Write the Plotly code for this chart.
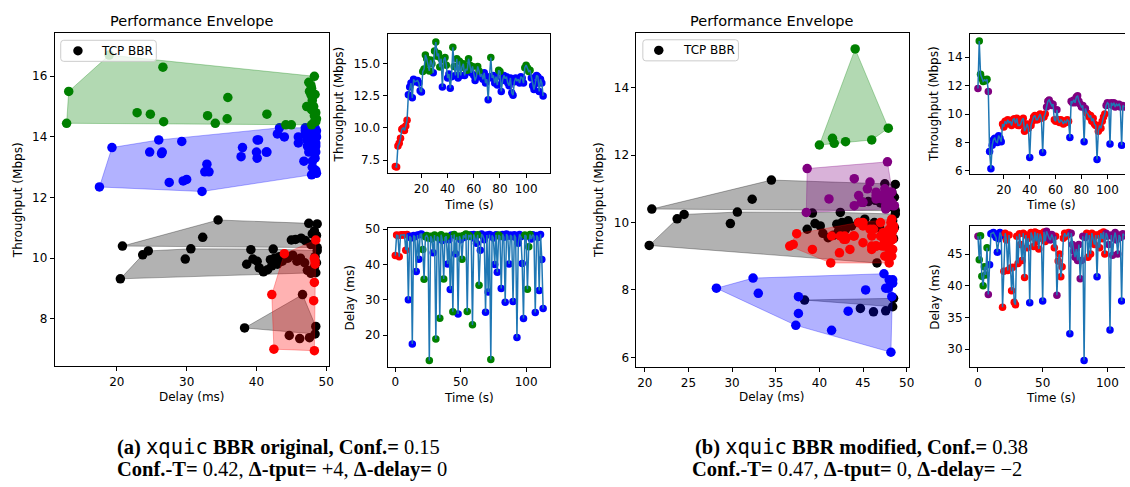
import numpy as np
import plotly.graph_objects as go

W, H = 1130, 487

# ---------------- DATA ----------------
# TCP BBR baseline points (delay ms, throughput Mbps), same in both panels
bbr_delay = [20.8, 32.3, 34.5, 47.5, 48.7, 45.0, 45.6, 46.4, 47.0, 48.3, 48.6, 48.0, 48.7, 47.8,
             20.5, 23.7, 24.5, 29.8, 30.6, 38.6, 39.2, 39.5, 40.1, 40.4, 41.0, 41.6, 42.0, 42.4,
             42.6, 43.0, 43.3, 43.7, 42.2, 44.5, 45.2, 45.8, 46.3, 46.9, 47.3, 47.8, 48.3, 48.6,
             48.4, 48.7, 48.5, 46.6, 38.3, 48.5, 48.4, 44.7, 46.2, 47.6]
bbr_tput = [10.40, 10.69, 11.26, 11.15, 11.13, 10.60, 10.62, 10.66, 10.58, 10.90, 10.75, 10.80, 10.35, 10.45,
            9.32, 10.11, 10.24, 9.97, 10.31, 9.80, 10.28, 9.97, 9.90, 9.68, 9.55, 9.62, 9.95, 10.30,
            10.00, 9.80, 10.05, 9.90, 9.75, 10.00, 10.10, 9.90, 10.00, 9.85, 9.60, 9.50, 9.70, 9.85,
            10.05, 10.25, 9.52, 8.80, 7.70, 7.75, 7.50, 7.45, 7.35, 7.38]
# envelope group of each TCP BBR point (0 = no envelope)
bbr_group_a = [1]*14 + [2]*31 + [3, 3, 3, 3] + [0, 0, 0]
bbr_group_b = [1]*14 + [2]*31 + [2, 3, 3, 3] + [0, 0, 0]

# xquic BBR original (panel a): per-second samples
time_a = list(range(114))
tput_a = [7.0, 6.95, 8.6, 8.8, 9.2, 9.9, 10.0, 9.8, 10.15, 10.6,
          12.6, 13.2, 13.5, 12.35, 13.8, 13.6, 13.65, 13.7, 13.5, 12.9,
          12.8, 14.4, 14.6, 15.7, 15.4, 15.0, 14.45, 15.3, 15.0, 14.3,
          16.0, 16.7, 15.6, 15.8, 14.75, 15.4, 13.2, 15.3, 15.5, 14.9,
          13.9, 14.2, 13.1, 14.0, 16.3, 14.8, 14.1, 15.4, 13.9, 15.2,
          14.1, 14.75, 15.0, 14.1, 14.6, 14.5, 15.4, 14.9, 14.3, 14.8,
          14.1, 13.7, 14.0, 14.8, 14.45, 14.0, 14.2, 13.8, 14.3, 13.5,
          13.8, 12.2, 14.0, 15.5, 13.9, 14.1, 13.5, 14.0, 13.35, 14.5,
          14.4, 12.85, 13.7, 14.1, 13.85, 14.0, 13.5, 13.3, 13.9, 12.75,
          12.55, 13.6, 13.9, 13.65, 13.8, 13.5, 14.0, 13.9, 13.5, 14.7,
          14.9, 14.7, 14.4, 14.5, 13.9, 13.3, 13.0, 13.45, 14.1, 14.0,
          12.85, 13.8, 13.5, 12.5]
delay_a = [42.5, 48.3, 48.2, 42.2, 48.3, 48.4, 48.3, 48.4, 44.0, 48.5,
           30.0, 48.0, 47.5, 17.5, 48.2, 47.8, 38.0, 48.3, 41.5, 48.5,
           48.6, 44.2, 35.8, 47.8, 48.2, 47.5, 12.8, 48.0, 47.2, 43.3,
           48.3, 18.9, 47.9, 47.5, 24.8, 48.4, 46.8, 35.9, 47.6, 48.0,
           40.1, 47.0, 32.9, 48.3, 26.6, 48.5, 43.0, 47.8, 26.0, 48.0,
           47.0, 41.5, 48.2, 47.7, 48.6, 26.7, 48.3, 47.9, 48.4, 22.9,
           48.5, 47.3, 46.0, 48.4, 34.1, 44.0, 48.6, 48.0, 47.0, 26.5,
           48.3, 32.2, 48.5, 13.1, 48.2, 47.5, 40.0, 48.4, 37.8, 48.3,
           47.9, 33.2, 48.5, 47.7, 29.3, 48.6, 48.0, 40.1, 48.3, 47.9,
           29.5, 48.4, 47.6, 19.3, 46.0, 48.5, 47.8, 40.3, 24.7, 48.3,
           48.0, 33.0, 45.0, 48.5, 47.2, 48.4, 48.0, 26.4, 48.2, 47.6,
           32.6, 48.5, 41.4, 27.5]
# throughput bands of the xquic clusters (colour, low, high)
clusters_a = [("red", 0.0, 11.5), ("blue", 11.5, 14.35), ("green", 14.35, 99.0)]

# xquic BBR modified (panel b)
time_b = list(range(114))
tput_b = [11.8, 15.15, 12.8, 12.5, 12.3, 12.4, 12.35, 12.45, 11.6, 7.37,
          6.15, 7.8, 8.2, 8.3, 8.05, 8.0, 8.48, 8.3, 8.05, 9.3,
          9.1, 9.5, 9.3, 9.6, 9.4, 9.5, 9.2, 9.6, 9.67, 9.35,
          9.7, 9.2, 9.2, 9.3, 9.6, 9.7, 8.8, 9.0, 9.3, 9.0,
          6.95, 9.2, 9.5, 9.8, 9.9, 9.6, 9.6, 9.8, 10.0, 9.7,
          7.3, 9.8, 10.0, 10.5, 10.9, 11.0, 10.8, 10.6, 10.7, 9.6,
          9.5, 10.3, 9.6, 9.4, 9.6, 9.5, 9.3, 9.5, 9.4, 9.6,
          9.5, 8.35, 10.9, 10.8, 11.0, 10.8, 11.2, 11.3, 10.9, 10.7,
          10.5, 10.6, 8.05, 10.4, 10.1, 10.0, 9.8, 9.9, 9.5, 9.7,
          9.3, 9.2, 6.8, 8.8, 9.2, 9.0, 9.5, 9.8, 10.0, 10.6,
          10.8, 10.7, 7.9, 10.8, 10.6, 10.8, 10.5, 10.7, 10.6, 10.7,
          10.5, 7.8, 10.6, 10.5]
delay_b = [47.8, 44.1, 47.9, 41.5, 40.0, 43.0, 41.7, 46.0, 38.6, 43.3,
           48.2, 48.3, 48.4, 48.0, 47.6, 45.3, 47.4, 48.4, 47.9, 36.6,
           42.3, 48.3, 47.2, 42.4, 48.0, 42.8, 39.2, 42.9, 37.4, 37.0,
           47.8, 43.5, 48.2, 46.5, 44.0, 48.3, 41.3, 48.0, 46.0, 47.5,
           37.3, 48.4, 47.8, 46.2, 48.5, 47.0, 48.3, 45.8, 48.2, 47.5,
           37.6, 48.5, 47.0, 48.6, 48.0, 47.5, 47.2, 48.1, 47.6, 46.0,
           47.8, 38.5, 43.9, 45.0, 41.4, 43.0, 47.5, 48.3, 47.8, 48.0,
           48.4, 32.4, 48.3, 46.5, 45.5, 44.5, 45.8, 44.0, 46.5, 41.1,
           44.0, 47.8, 28.2, 47.6, 48.3, 44.5, 48.0, 45.0, 48.3, 47.3,
           46.5, 48.0, 41.4, 48.0, 46.0, 48.3, 47.4, 48.5, 45.0, 48.3,
           47.8, 46.5, 33.0, 48.0, 44.8, 47.5, 48.4, 47.2, 45.0, 48.0,
           47.6, 37.6, 48.2, 47.9]
clusters_b = [("blue", 0.0, 8.7), ("red", 8.7, 10.2), ("purple", 10.2, 12.2), ("green", 12.2, 99.0)]

legend_label = "TCP BBR"
captions = {
    "a": ["<b>(a)</b> <span style='font-family:\"DejaVu Sans Mono\"'>xquic</span> <b>BBR original, Conf.=</b> 0.15",
          "<b>Conf.-T=</b> 0.42, <b>Δ-tput=</b> +4, <b>Δ-delay=</b> 0"],
    "b": ["<b>(b)</b> <span style='font-family:\"DejaVu Sans Mono\"'>xquic</span> <b>BBR modified, Conf.=</b> 0.38",
          "<b>Conf.-T=</b> 0.47, <b>Δ-tput=</b> 0, <b>Δ-delay=</b> −2"],
}

# ---------------- HELPERS ----------------
RGB = {"red": (255, 0, 0), "blue": (0, 0, 255), "green": (0, 128, 0),
       "purple": (128, 0, 128), "black": (0, 0, 0)}
MAIN_SIZE = 9.5
SMALL_SIZE = 7.5


def col(name, a=1.0):
    r, g, b = RGB[name]
    return f"rgba({r},{g},{b},{a})"


def hull(xs, ys):
    pts = sorted(set(zip(xs, ys)))
    if len(pts) < 3:
        return pts

    def cross(o, a, b):
        return (a[0]-o[0])*(b[1]-o[1]) - (a[1]-o[1])*(b[0]-o[0])
    lower, upper = [], []
    for p in pts:
        while len(lower) >= 2 and cross(lower[-2], lower[-1], p) <= 0:
            lower.pop()
        lower.append(p)
    for p in reversed(pts):
        while len(upper) >= 2 and cross(upper[-2], upper[-1], p) <= 0:
            upper.pop()
        upper.append(p)
    h = lower[:-1] + upper[:-1]
    return h + [h[0]]


def px(x):
    return x / W


def py(y):
    return 1 - y / H


fig = go.Figure()
FONT = "DejaVu Sans"


def add_main(xa, ya, tput, delay, clusters, groups):
    fig.add_trace(go.Scatter(x=bbr_delay, y=bbr_tput, mode="markers", name=legend_label,
                             marker=dict(color="black", size=MAIN_SIZE), xaxis=xa, yaxis=ya,
                             showlegend=False))
    for g in sorted(set(groups)):
        if g == 0:
            continue
        gx = [d for d, k in zip(bbr_delay, groups) if k == g]
        gy = [t for t, k in zip(bbr_tput, groups) if k == g]
        h = hull(gx, gy)
        fig.add_trace(go.Scatter(x=[p[0] for p in h], y=[p[1] for p in h], mode="lines",
                                 fill="toself", fillcolor=col("black", 0.3),
                                 line=dict(color=col("black", 0.3), width=1),
                                 xaxis=xa, yaxis=ya, showlegend=False, hoverinfo="skip"))
    for name, lo, hi in clusters:
        cx = [d for d, t in zip(delay, tput) if lo <= t < hi]
        cy = [t for t in tput if lo <= t < hi]
        fig.add_trace(go.Scatter(x=cx, y=cy, mode="markers",
                                 marker=dict(color=col(name), size=MAIN_SIZE),
                                 xaxis=xa, yaxis=ya, showlegend=False))
        h = hull(cx, cy)
        fig.add_trace(go.Scatter(x=[p[0] for p in h], y=[p[1] for p in h], mode="lines",
                                 fill="toself", fillcolor=col(name, 0.3),
                                 line=dict(color=col(name, 0.3), width=1),
                                 xaxis=xa, yaxis=ya, showlegend=False, hoverinfo="skip"))


def add_series(xa, ya, time, vals, tput, clusters):
    for name, lo, hi in clusters:
        tx = [s for s, t in zip(time, tput) if lo <= t < hi]
        vy = [v for v, t in zip(vals, tput) if lo <= t < hi]
        fig.add_trace(go.Scatter(x=tx, y=vy, mode="markers",
                                 marker=dict(color=col(name), size=SMALL_SIZE),
                                 xaxis=xa, yaxis=ya, showlegend=False))
    fig.add_trace(go.Scatter(x=time, y=vals, mode="lines", line=dict(color="#1f77b4", width=1.5),
                             xaxis=xa, yaxis=ya, showlegend=False))


add_main("x", "y", tput_a, delay_a, clusters_a, bbr_group_a)
add_series("x2", "y2", time_a, tput_a, tput_a, clusters_a)
add_series("x3", "y3", time_a, delay_a, tput_a, clusters_a)
add_main("x4", "y4", tput_b, delay_b, clusters_b, bbr_group_b)
add_series("x5", "y5", time_b, tput_b, tput_b, clusters_b)
add_series("x6", "y6", time_b, delay_b, tput_b, clusters_b)


def ax(domain, rng, tickvals, anchor, mirror=True, fmt=None):
    d = dict(domain=domain, range=rng, tickvals=tickvals, anchor=anchor, showline=True,
             linecolor="black", linewidth=1, mirror=mirror, ticks="outside", ticklen=4,
             tickwidth=1, tickcolor="black", showgrid=False, zeroline=False,
             tickfont=dict(family=FONT, size=12, color="black"))
    if fmt:
        d["tickformat"] = fmt
    return d


# pixel boxes
A_MAIN = (55, 330.5, 27.5, 368)
A_THR = (389.3, 552.5, 28.3, 171)
A_DEL = (389.3, 552.5, 226.7, 368.3)
B_MAIN = (639.3, 913.3, 27.7, 369)
B_THR = (974.3, 1130, 28.3, 171.7)
B_DEL = (974.3, 1130, 225, 369)


def xd(b):
    return [px(b[0]), px(b[1])]


def yd(b):
    return [py(b[3]), py(b[2])]


fig.update_layout(
    xaxis=ax(xd(A_MAIN), [11.1, 50.4], [20, 30, 40, 50], "y"),
    yaxis=ax(yd(A_MAIN), [6.43, 17.43], [8, 10, 12, 14, 16], "x"),
    xaxis2=ax(xd(A_THR), [-5.9, 118.3], [20, 40, 60, 80, 100], "y2"),
    yaxis2=ax(yd(A_THR), [6.45, 17.35], [7.5, 10, 12.5, 15], "x2", fmt=".1f"),
    xaxis3=ax(xd(A_DEL), [-5.9, 118.3], [0, 50, 100], "y3"),
    yaxis3=ax(yd(A_DEL), [11.05, 50.3], [20, 30, 40, 50], "x3"),
    xaxis4=ax(xd(B_MAIN), [19.04, 50.3], [20, 25, 30, 35, 40, 45, 50], "y4"),
    yaxis4=ax(yd(B_MAIN), [5.70, 15.62], [6, 8, 10, 12, 14], "x4"),
    xaxis5=ax(xd(B_THR), [-6.15, 113.6], [20, 40, 60, 80, 100], "y5"),
    yaxis5=ax(yd(B_THR), [5.77, 15.66], [6, 8, 10, 12, 14], "x5", mirror=False),
    xaxis6=ax(xd(B_DEL), [-6.15, 113.6], [0, 50, 100], "y6"),
    yaxis6=ax(yd(B_DEL), [27.1, 49.37], [30, 35, 40, 45], "x6", mirror=False),
)

ann = []
shapes = []


def label(x, y, text, size=12, angle=0, family=FONT, anchor="center"):
    ann.append(dict(x=px(x), y=py(y), xref="paper", yref="paper", text=text, showarrow=False,
                    textangle=angle, xanchor=anchor, yanchor="middle",
                    font=dict(family=family, size=size, color="black")))


def legend_box(x0, y0, x1, y1, dot_x, text_x):
    r = 3
    p = (f"M {px(x0 + r)} {py(y0)} L {px(x1 - r)} {py(y0)} Q {px(x1)} {py(y0)} {px(x1)} {py(y0 + r)} "
         f"L {px(x1)} {py(y1 - r)} Q {px(x1)} {py(y1)} {px(x1 - r)} {py(y1)} "
         f"L {px(x0 + r)} {py(y1)} Q {px(x0)} {py(y1)} {px(x0)} {py(y1 - r)} "
         f"L {px(x0)} {py(y0 + r)} Q {px(x0)} {py(y0)} {px(x0 + r)} {py(y0)} Z")
    shapes.append(dict(type="path", path=p, xref="paper", yref="paper",
                       fillcolor="rgba(255,255,255,0.8)", line=dict(color="#cccccc", width=1)))
    yc = (y0 + y1) / 2
    rr = MAIN_SIZE / 2
    shapes.append(dict(type="circle", xref="paper", yref="paper",
                       x0=px(dot_x - rr), x1=px(dot_x + rr), y0=py(yc + rr), y1=py(yc - rr),
                       fillcolor="black", line=dict(width=0)))
    label(text_x, yc, legend_label, 12, anchor="left")


legend_box(61, 35, 157, 56.5, 78.3, 99.5)
legend_box(645.7, 34.5, 741.7, 56, 661.7, 684.0)

label(192.5, 15, "Performance Envelope", 14.5)
label(775.3, 15, "Performance Envelope", 14.5)
label(192.5, 399, "Delay (ms)")
label(18.3, 198, "Throughput (Mbps)", angle=-90)
label(775, 399, "Delay (ms)")
label(601.7, 198, "Throughput (Mbps)", angle=-90)
label(340, 100, "Throughput (Mbps)", angle=-90)
label(470.9, 202.7, "Time (s)")
label(351.7, 297.5, "Delay (ms)", angle=-90)
label(470.9, 400.7, "Time (s)")
label(938.3, 100, "Throughput (Mbps)", angle=-90)
label(1055.5, 203.3, "Time (s)")
label(938.3, 296.7, "Delay (ms)", angle=-90)
label(1055.5, 400.7, "Time (s)")

SERIF = "Liberation Serif"
label(280, 450, captions["a"][0], 20.5, family=SERIF)
label(283, 473, captions["a"][1], 20.5, family=SERIF)
label(865, 450, captions["b"][0], 20.5, family=SERIF)
label(861, 473, captions["b"][1], 20.5, family=SERIF)

fig.update_layout(annotations=ann, shapes=shapes, width=W, height=H,
                  margin=dict(l=0, r=0, t=0, b=0),
                  paper_bgcolor="white", plot_bgcolor="white", showlegend=False)

fig.write_html("out.html")
